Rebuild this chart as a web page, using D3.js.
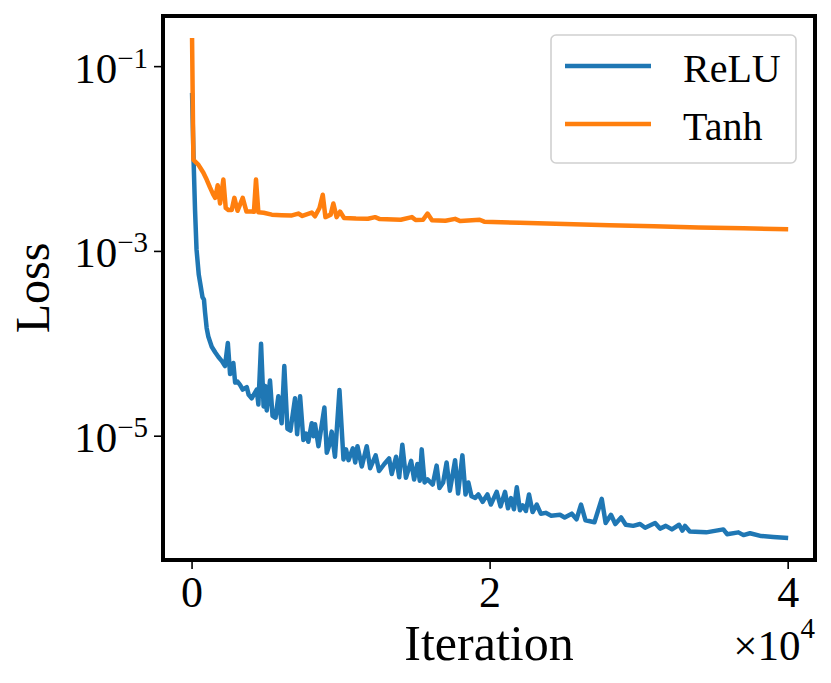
<!DOCTYPE html>
<html>
<head>
<meta charset="utf-8">
<script src="https://cdn.jsdelivr.net/npm/d3@7"></script>
<style>
  html, body { margin: 0; padding: 0; background: #fff; }
  svg { display: block; font-family: "Liberation Serif", "DejaVu Serif", serif; }
</style>
</head>
<body>
<svg id="chart" width="831" height="683"></svg>
<script>
// Data: [iteration, loss]
const reluData = [
  [0,5.2e-2],[100,1.0e-2],[200,2.8e-3],[300,1.05e-3],[450,5.6e-4],[540,4.6e-4],[700,3.2e-4],[800,3.0e-4],
  [870,2.2e-4],[980,1.48e-4],[1090,1.2e-4],[1320,9.3e-5],[1550,8.1e-5],[1770,7.2e-5],[2000,6.5e-5],[2210,5.75e-5],
  [2400,1.02e-4],[2550,4.7e-5],[2770,6.2e-5],[2890,3.8e-5],[3050,3.9e-5],[3220,3.6e-5],[3400,3.2e-5],[3670,3.4e-5],
  [3800,2.8e-5],[4000,2.57e-5],[4340,3.2e-5],[4450,2.2e-5],[4630,1.0e-4],[4800,2.1e-5],[4900,3.5e-5],[5010,1.9e-5],
  [5230,4.0e-5],[5400,1.66e-5],[5600,1.58e-5],[5790,2.7e-5],[6010,1.38e-5],[6190,5.75e-5],[6400,1.2e-5],[6600,1.15e-5],
  [6910,2.57e-5],[7050,1.05e-5],[7250,2.7e-5],[7470,9.1e-6],[7650,1.07e-5],[7800,8.7e-6],[8030,1.38e-5],[8150,1.0e-5],
  [8250,1.35e-5],[8480,7.8e-6],[8880,2.04e-5],[9040,6.6e-6],[9200,7.9e-6],[9370,1.12e-5],[9590,6.0e-6],[9890,3.16e-5],
  [10160,5.6e-6],[10330,7.2e-6],[10500,5.5e-6],[10790,7.4e-6],[10950,5.2e-6],[11100,7.8e-6],[11390,4.7e-6],[11720,7.8e-6],
  [11950,4.5e-6],[12320,6.2e-6],[12550,4.2e-6],[12900,5.0e-6],[13220,5.75e-6],[13400,3.9e-6],[13690,6.0e-6],[13900,3.6e-6],
  [14110,8.1e-6],[14350,3.55e-6],[14700,5.4e-6],[14900,3.4e-6],[15120,5.0e-6],[15280,3.3e-6],[15410,7.2e-6],[15600,3.16e-6],
  [15800,3.4e-6],[16150,3.0e-6],[16410,4.8e-6],[16600,2.75e-6],[16850,3.16e-6],[17080,5.2e-6],[17300,2.57e-6],[17650,5.5e-6],
  [17850,2.4e-6],[18140,6.2e-6],[18350,2.34e-6],[18540,3.16e-6],[18750,2.24e-6],[19000,2.15e-6],[19210,2.34e-6],[19500,1.95e-6],
  [19820,2.34e-6],[20050,1.82e-6],[20440,2.5e-6],[20700,1.74e-6],[21000,2.5e-6],[21200,1.66e-6],[21400,2.14e-6],[21600,1.62e-6],
  [21790,2.8e-6],[22000,1.58e-6],[22190,1.78e-6],[22400,1.55e-6],[22610,2.34e-6],[22850,1.51e-6],[23130,1.82e-6],[23400,1.45e-6],
  [23730,1.48e-6],[24100,1.38e-6],[24690,1.41e-6],[25000,1.32e-6],[25480,1.45e-6],[25800,1.26e-6],[26100,1.82e-6],[26400,1.23e-6],
  [27000,1.17e-6],[27490,2.1e-6],[27750,1.15e-6],[28110,1.41e-6],[28400,1.12e-6],[28790,1.32e-6],[29100,1.10e-6],[29600,1.07e-6],
  [30060,1.12e-6],[30400,1.02e-6],[31070,1.15e-6],[31400,1.0e-6],[31790,1.07e-6],[32200,9.8e-7],[32680,1.1e-6],[32900,9.5e-7],
  [33080,1.07e-6],[33400,9.3e-7],[34500,9.1e-7],[35650,9.8e-7],[35900,8.7e-7],[36660,9.1e-7],[37000,8.5e-7],[37440,8.9e-7],
  [38200,8.3e-7],[39000,8.1e-7],[40000,7.9e-7]
];

const tanhData = [
  [0,0.204],[90,9.8e-3],[420,8.7e-3],[760,7.1e-3],[980,6.0e-3],[1210,4.9e-3],[1400,4.2e-3],[1550,3.8e-3],
  [1720,5.2e-3],[1880,3.3e-3],[2100,6.0e-3],[2260,2.95e-3],[2450,2.8e-3],[2660,2.8e-3],[2840,3.8e-3],[3050,2.75e-3],
  [3400,3.8e-3],[3650,2.7e-3],[4000,2.7e-3],[4150,2.68e-3],[4290,6.0e-3],[4450,2.65e-3],[4800,2.62e-3],[5350,2.5e-3],
  [6000,2.47e-3],[6700,2.45e-3],[7130,2.57e-3],[7400,2.42e-3],[8030,2.63e-3],[8250,2.4e-3],[8550,2.95e-3],[8770,4.1e-3],
  [8950,2.35e-3],[9300,2.5e-3],[9480,3.3e-3],[9700,2.35e-3],[9930,2.7e-3],[10200,2.3e-3],[11000,2.27e-3],[11800,2.26e-3],
  [12280,2.35e-3],[12600,2.24e-3],[14000,2.2e-3],[14750,2.35e-3],[15000,2.19e-3],[15500,2.2e-3],[15800,2.57e-3],[16100,2.17e-3],
  [17000,2.15e-3],[17650,2.25e-3],[18000,2.13e-3],[19300,2.2e-3],[19600,2.1e-3],[22000,2.04e-3],[25000,1.98e-3],[28000,1.92e-3],
  [31000,1.87e-3],[34000,1.82e-3],[37000,1.78e-3],[40000,1.74e-3]
];

const seriesNames = ["ReLU", "Tanh"];
const seriesColors = ["#1f77b4", "#ff7f0e"];
const xTicks = [0, 20000, 40000];
const yTicks = [1e-1, 1e-3, 1e-5];

// Layout
const frame = { left: 163, right: 815, top: 16, bottom: 560 };
const svg = d3.select("#chart");

const x = d3.scaleLinear().domain([-1950, 41800]).range([frame.left, frame.right]);
const y = d3.scaleLog().domain([Math.pow(10, -6.34), Math.pow(10, -0.452)]).range([frame.bottom, frame.top]);

svg.append("defs").append("clipPath").attr("id", "clip")
  .append("rect")
  .attr("x", frame.left).attr("y", frame.top)
  .attr("width", frame.right - frame.left).attr("height", frame.bottom - frame.top);

// Lines
const line = d3.line().x(d => x(d[0])).y(d => y(d[1]));
const plot = svg.append("g").attr("clip-path", "url(#clip)");
[reluData, tanhData].forEach((data, i) => {
  plot.append("path").datum(data)
    .attr("fill", "none")
    .attr("stroke", seriesColors[i])
    .attr("stroke-width", 4.5)
    .attr("stroke-linejoin", "round")
    .attr("stroke-linecap", "butt")
    .attr("d", line);
});

// Frame
svg.append("rect")
  .attr("x", frame.left).attr("y", frame.top)
  .attr("width", frame.right - frame.left).attr("height", frame.bottom - frame.top)
  .attr("fill", "none").attr("stroke", "#000").attr("stroke-width", 4);

// X axis ticks
const xAxis = svg.append("g");
xTicks.forEach(t => {
  xAxis.append("line")
    .attr("x1", x(t)).attr("x2", x(t))
    .attr("y1", frame.bottom + 2).attr("y2", frame.bottom + 9)
    .attr("stroke", "#000").attr("stroke-width", 1.6);
  xAxis.append("text")
    .attr("x", x(t)).attr("y", 607)
    .attr("text-anchor", "middle")
    .attr("font-size", 44)
    .text(t / 1e4);
});

// Y axis ticks
const yAxis = svg.append("g");
yTicks.forEach(t => {
  const yy = y(t);
  yAxis.append("line")
    .attr("x1", frame.left - 2).attr("x2", frame.left - 9)
    .attr("y1", yy).attr("y2", yy)
    .attr("stroke", "#000").attr("stroke-width", 1.6);
  const txt = yAxis.append("text")
    .attr("x", 148).attr("y", yy + 16)
    .attr("text-anchor", "end");
  txt.append("tspan").attr("font-size", 43).text("10");
  txt.append("tspan").attr("font-size", 29).attr("dy", -15)
    .text("\u2212" + Math.round(-Math.log10(t)));
});

// Axis labels
svg.append("text")
  .attr("x", 489).attr("y", 660)
  .attr("text-anchor", "middle")
  .attr("font-size", 50)
  .text("Iteration");

const off = svg.append("text")
  .attr("x", 815).attr("y", 660)
  .attr("text-anchor", "end");
off.append("tspan").attr("font-size", 43).text("\u00d710");
off.append("tspan").attr("font-size", 29).attr("dy", -22).text("4");

svg.append("text")
  .attr("transform", `translate(49,${(frame.top + frame.bottom) / 2}) rotate(-90)`)
  .attr("text-anchor", "middle")
  .attr("font-size", 48)
  .text("Loss");

// Legend
const legend = svg.append("g");
legend.append("rect")
  .attr("x", 551).attr("y", 35).attr("width", 245).attr("height", 128)
  .attr("rx", 5).attr("ry", 5)
  .attr("fill", "#fff").attr("fill-opacity", 0.8)
  .attr("stroke", "#d0d0d0").attr("stroke-width", 1.6);
seriesNames.forEach((name, i) => {
  const ly = 66 + i * 58;
  legend.append("line")
    .attr("x1", 565).attr("x2", 651)
    .attr("y1", ly).attr("y2", ly)
    .attr("stroke", seriesColors[i]).attr("stroke-width", 4.5);
  legend.append("text")
    .attr("x", 683).attr("y", ly + 16)
    .attr("font-size", 40)
    .text(name);
});
</script>
</body>
</html>
